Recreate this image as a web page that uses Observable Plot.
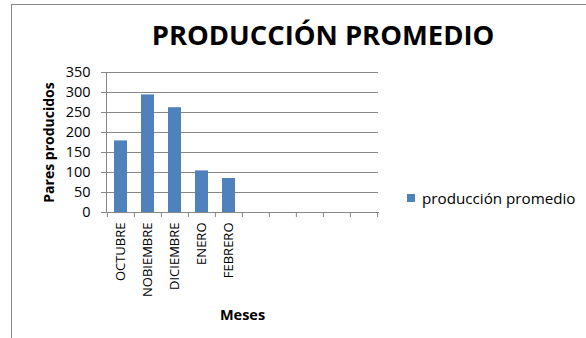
<!DOCTYPE html>
<html>
<head>
<meta charset="utf-8">
<script src="https://cdn.jsdelivr.net/npm/d3@7"></script>
<script src="https://cdn.jsdelivr.net/npm/@observablehq/plot@0.6"></script>
<style>
  html, body { margin: 0; padding: 0; background: #fff; overflow: hidden; }
  #wrap { position: relative; width: 586px; height: 338px; font-family: "Open Sans", sans-serif; }
  #border { position: absolute; left: 11px; top: 4px; width: 700px; height: 500px; border-left: 1.5px solid #8a8a8a; border-top: 1.5px solid #8a8a8a; }
  #title { position: absolute; left: 323px; top: 16px; transform: translateX(-50%); white-space: nowrap;
           font-weight: 700; font-size: 27.4px; color: #000; }
  #legend { position: absolute; left: 407px; top: 188px; white-space: nowrap; font-size: 15.2px; color: #000; display: flex; align-items: center; }
  #legend .sw { width: 8px; height: 8px; background: #4F81BD; margin-right: 7px; }
  #chart { position: absolute; left: 0; top: 0; }
</style>
</head>
<body>
<div id="wrap">
  <div id="border"></div>
  <div id="chart"></div>
  <div id="title"></div>
  <div id="legend"><div class="sw"></div><span id="legtext"></span></div>
</div>
<script>
const title = "PRODUCCIÓN PROMEDIO";
const seriesName = "producción promedio";
const yLabel = "Pares producidos";
const xLabel = "Meses";
const months = ["OCTUBRE", "NOBIEMBRE", "DICIEMBRE", "ENERO", "FEBRERO"];
const values = [179, 294, 262, 104, 85];
const emptySlots = ["_1", "_2", "_3", "_4", "_5"];
const yTicks = [0, 50, 100, 150, 200, 250, 300, 350];

const slots = months.concat(emptySlots);
const data = months.map((m, i) => ({month: m, value: values[i]}));

const W = 586, H = 338, mL = 106, mR = 208, mT = 72, mB = 126;
const half = (W - mL - mR) / slots.length / 2;
const gray = "#868686";

document.getElementById("title").textContent = title;
document.getElementById("legtext").textContent = seriesName;

const chart = Plot.plot({
  width: W, height: H,
  marginLeft: mL, marginRight: mR, marginTop: mT, marginBottom: mB,
  style: {fontFamily: "'Open Sans', sans-serif", color: "#000", background: "transparent"},
  x: {domain: slots, paddingInner: 0.52, paddingOuter: 0.26, axis: null},
  y: {domain: [0, 350], axis: null},
  marks: [
    Plot.ruleY(yTicks, {stroke: gray, strokeWidth: 1, strokeOpacity: 1}),
    Plot.frame({anchor: "left", stroke: gray, strokeOpacity: 1}),
    Plot.frame({anchor: "bottom", stroke: gray, strokeOpacity: 1}),
    Plot.axisY({ticks: yTicks, tickSize: 5, tickPadding: 11, fontSize: 14.5, stroke: gray, strokeOpacity: 1, fill: "#000", label: null}),
    Plot.barY(data, {x: "month", y: "value", fill: "#4F81BD"}),
    Plot.axisX(slots, {tickSize: 5, dx: -half, stroke: gray, strokeOpacity: 1, tickFormat: () => "", label: null}),
    Plot.axisX([slots[slots.length - 1]], {tickSize: 5, dx: half, stroke: gray, strokeOpacity: 1, tickFormat: () => "", label: null}),
    Plot.axisX(slots, {tickSize: 0, tickPadding: 10, tickRotate: -90, fontSize: 13, fill: "#000",
      tickFormat: d => d.startsWith("_") ? "" : d, label: null}),
    Plot.text([yLabel], {text: d => d, frameAnchor: "left", textAnchor: "middle", dx: -57, rotate: -90, fontWeight: "bold", fontSize: 14, fill: "#000"}),
    Plot.text([xLabel], {text: d => d, frameAnchor: "bottom", textAnchor: "middle", lineAnchor: "middle", dy: 103, fontWeight: "bold", fontSize: 14.5, fill: "#000"})
  ]
});
document.getElementById("chart").appendChild(chart);
</script>
</body>
</html>
